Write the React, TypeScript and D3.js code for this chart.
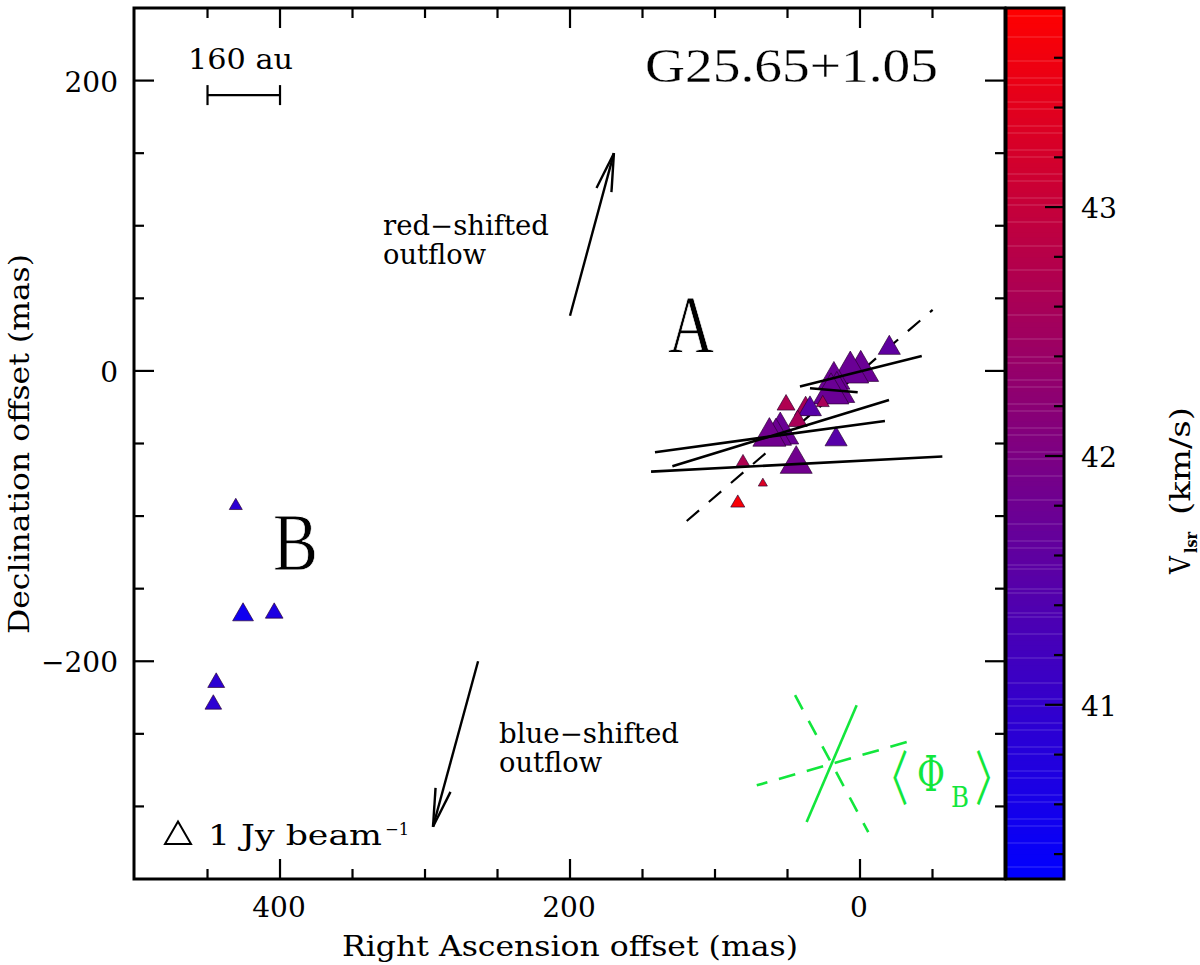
import React, { useEffect, useRef } from 'react';
import * as d3 from 'd3';

// maser spots: offsets in mas, flux in Jy/beam, velocity in km/s
const spotRa = [-20.2, -0.5, 6.7, 18, 16, 20, 37.5, 34.5, 25.7, 51, 43, 55, 58, 62.5, 16.5, 44, 80.7, 67, 84.3, 430.5, 425.5, 404, 444, 446];
const spotDec = [15.8, -0.1, -1, -6.2, -14.6, -15.6, -26.2, -26.3, -22, -23.4, -34.5, -43, -45, -45.3, -47.2, -64.2, -62.7, -77.5, -91, -92.9, -168, -166.8, -214.7, -229.7];
const spotFlux = [0.85, 1.38, 1.42, 1.23, 1.38, 1.38, 0.85, 0.88, 0.5, 0.69, 0.73, 1.42, 1.2, 1.27, 0.85, 1.23, 0.5, 0.35, 0.54, 0.5, 0.8, 0.68, 0.65, 0.64];
const spotVel = [41.6, 41.75, 41.75, 41.75, 41.75, 41.75, 42.6, 41.5, 42.6, 42.7, 42.6, 41.75, 41.8, 41.85, 41.5, 41.85, 42.7, 43.3, 43.7, 40.9, 40.5, 40.7, 40.9, 40.9];

// polarization vectors [ra1, dec1, ra2, dec2]
const vectors = [
  [41.4, -10.8, -42.6, 10.3],
  [34.5, -11.9, 1.6, -14.7],
  [129.4, -65.7, -20, -20],
  [141.4, -56, -17.2, -34.5],
  [144.1, -69.4, -56.8, -59],
];
const fitLine = [119.5, -103.4, -50.1, 42.1];
const outflowRed = [200, 38, 169.7, 150];
const outflowBlue = [263.4, -200, 294.5, -314];
const fieldSolid = [2.3, -230.3, 36.8, -310.8];
const fieldDashed = [-32.2, -255.7, 71.2, -285.5];
const fieldDashed2 = [44.8, -223.4, -5.7, -317.7];
const scaleBar = [450, 190, 400, 190];

const xMajor = [400, 200, 0];
const yMajor = [200, 0, -200];
const velMajor = [43, 42, 41];

// lighter seams between the colour bar's image tiles
const seams = [16, 37, 61, 78, 85, 102, 109, 126, 133, 150, 157, 174, 181, 198, 205, 222, 246, 270, 291, 315, 339, 357, 363, 380, 387, 404, 411, 428, 435, 452, 459, 476, 500, 524, 541, 548, 565, 569, 589, 593, 613, 617, 634, 658, 683, 699, 706, 723, 730, 747, 754, 771, 778, 795, 802, 819, 826, 843, 867];

const SERIF = '"DejaVu Serif", serif';
const ROMAN = '"Liberation Serif", serif';
const CJK = '"Noto Sans CJK SC", sans-serif';
const GREEN = '#12e63c';

const App = () => {
  const svgRef = useRef<SVGSVGElement>(null);

  useEffect(() => {
    const svg = d3.select(svgRef.current);
    svg.selectAll('*').remove();

    const left = 134, right = 1005, top = 8, bottom = 879;
    const barLeft = 1006, barRight = 1064;

    const x = d3.scaleLinear().domain([500.7, -100]).range([left, right]);
    const y = d3.scaleLinear().domain([250, -350]).range([top, bottom]);
    const v = d3.scaleLinear().domain([40.3, 43.8]).range([bottom, top]);
    const color = d3.scaleLinear<string>().domain([40.3, 43.8]).range(['#0000ff', '#ff0000']);

    const segment = (d: number[], stroke = '#000', width = 2, dash: string | null = null) =>
      svg.append('line')
        .attr('x1', x(d[0])).attr('y1', y(d[1]))
        .attr('x2', x(d[2])).attr('y2', y(d[3]))
        .attr('stroke', stroke).attr('stroke-width', width)
        .attr('stroke-dasharray', dash);

    const label = (s: string, px: number, py: number, size: number, len?: number, anchor = 'start', font = SERIF, fill = '#000') => {
      const t = svg.append('text')
        .attr('x', px).attr('y', py)
        .attr('font-family', font).attr('font-size', size)
        .attr('text-anchor', anchor).attr('fill', fill)
        .text(s);
      if (len) t.attr('textLength', len).attr('lengthAdjust', 'spacingAndGlyphs');
      return t;
    };
    const thin = (t: any, w = 0.8) => t.attr('stroke', '#fff').attr('stroke-width', w);

    // colour bar
    const bands = d3.range(40.3, 43.8, 0.02);
    svg.append('g').selectAll('rect').data(bands).enter().append('rect')
      .attr('x', barLeft).attr('width', barRight - barLeft)
      .attr('y', d => v(d + 0.02) - 0.5)
      .attr('height', d => v(d) - v(d + 0.02) + 1)
      .attr('fill', d => color(d + 0.01));
    svg.append('g').selectAll('line').data(seams).enter().append('line')
      .attr('x1', barLeft).attr('x2', barRight)
      .attr('y1', d => d).attr('y2', d => d)
      .attr('stroke', '#fff').attr('stroke-opacity', 0.2).attr('stroke-width', 1);

    // fit line goes under the spots
    segment(fitLine, '#000', 2.2, '16.3 12.85');

    const tri = d3.symbol().type(d3.symbolTriangle);
    const triArea = (w: number) => (Math.sqrt(3) / 4) * w * w;
    const fluxW = d3.scaleLinear().domain([0, 1]).range([0, 26]);

    svg.append('g').selectAll('path').data(d3.range(spotRa.length)).enter().append('path')
      .attr('d', i => tri.size(triArea(fluxW(spotFlux[i])))())
      .attr('transform', i => `translate(${x(spotRa[i])},${y(spotDec[i])})`)
      .attr('fill', i => color(spotVel[i]))
      .attr('stroke', '#2a0030').attr('stroke-opacity', 0.75).attr('stroke-width', 0.9);

    vectors.forEach(d => segment(d, '#000', 2.6));

    // outflow arrows
    const arrow = (d: number[]) => {
      segment(d, '#000', 2.4);
      const x2 = x(d[2]), y2 = y(d[3]);
      const ang = Math.atan2(y(d[1]) - y2, x(d[0]) - x2);
      [-0.2, 0.2].forEach(a => {
        svg.append('line')
          .attr('x1', x2).attr('y1', y2)
          .attr('x2', x2 + 39 * Math.cos(ang + a)).attr('y2', y2 + 39 * Math.sin(ang + a))
          .attr('stroke', '#000').attr('stroke-width', 2.4);
      });
    };
    arrow(outflowRed);
    arrow(outflowBlue);

    // scale bar
    segment(scaleBar, '#000', 2.2);
    [scaleBar[0], scaleBar[2]].forEach(r => {
      svg.append('line')
        .attr('x1', x(r)).attr('x2', x(r))
        .attr('y1', y(scaleBar[1]) - 10).attr('y2', y(scaleBar[1]) + 10)
        .attr('stroke', '#000').attr('stroke-width', 2.2);
    });

    // magnetic field marker
    segment(fieldSolid, GREEN, 2.6);
    segment(fieldDashed, GREEN, 2.6, '17 12');
    segment(fieldDashed2, GREEN, 2.6, '16 13');

    // frame
    svg.append('rect')
      .attr('x', left).attr('y', top).attr('width', right - left).attr('height', bottom - top)
      .attr('fill', 'none').attr('stroke', '#000').attr('stroke-width', 3);
    svg.append('rect')
      .attr('x', barLeft).attr('y', top).attr('width', barRight - barLeft).attr('height', bottom - top)
      .attr('fill', 'none').attr('stroke', '#000').attr('stroke-width', 3);

    const ticks = svg.append('g').attr('stroke', '#000').attr('stroke-width', 2.2);
    d3.range(-100, 501, 50).forEach(t => {
      const len = t % 200 === 0 ? 20 : 10;
      if (x(t) <= left + 2 || x(t) >= right - 2) return;
      ticks.append('line').attr('x1', x(t)).attr('x2', x(t)).attr('y1', top).attr('y2', top + len);
      ticks.append('line').attr('x1', x(t)).attr('x2', x(t)).attr('y1', bottom).attr('y2', bottom - len);
    });
    d3.range(-300, 201, 50).forEach(t => {
      const len = t % 200 === 0 ? 20 : 10;
      ticks.append('line').attr('y1', y(t)).attr('y2', y(t)).attr('x1', left).attr('x2', left + len);
      ticks.append('line').attr('y1', y(t)).attr('y2', y(t)).attr('x1', right).attr('x2', right - len);
    });
    d3.range(40.4, 43.75, 0.2).forEach(t => {
      const len = Math.abs(t - Math.round(t)) < 0.01 ? 18 : 9;
      ticks.append('line').attr('y1', v(t)).attr('y2', v(t)).attr('x1', barRight - 1).attr('x2', barRight - 1 - len);
    });

    // tick labels
    xMajor.forEach(t => label(String(t), x(t) - 1, 917, 28, undefined, 'middle'));
    yMajor.forEach(t => label(t < 0 ? `\u2212${-t}` : String(t), 118, y(t) + 11, 28, undefined, 'end'));
    velMajor.forEach(t => label(String(t), 1081, v(t) + 11, 28, 36));

    // axis titles
    label('Right Ascension offset (mas)', 342, 956, 28, 456);
    svg.append('text')
      .attr('transform', 'translate(29,634) rotate(-90)')
      .attr('font-family', SERIF).attr('font-size', 28)
      .attr('textLength', 380).attr('lengthAdjust', 'spacingAndGlyphs')
      .text('Declination offset (mas)');
    svg.append('text')
      .attr('transform', 'translate(1190,574) rotate(-90)')
      .attr('font-family', SERIF).attr('font-size', 28)
      .attr('textLength', 18).attr('lengthAdjust', 'spacingAndGlyphs')
      .text('V');
    svg.append('text')
      .attr('transform', 'translate(1197,553) rotate(-90)')
      .attr('font-family', SERIF).attr('font-size', 16).attr('font-weight', 'bold')
      .attr('textLength', 21).attr('lengthAdjust', 'spacingAndGlyphs')
      .text('lsr');
    svg.append('text')
      .attr('transform', 'translate(1190,515) rotate(-90)')
      .attr('font-family', SERIF).attr('font-size', 28)
      .attr('textLength', 108).attr('lengthAdjust', 'spacingAndGlyphs')
      .text('(km/s)');

    // annotations
    thin(label('G25.65+1.05', 645, 82, 48, 293, 'start', ROMAN), 0.3);
    label('160 au', 188, 69, 28, 105);
    thin(label('A', 668, 352, 82, 46, 'start', ROMAN));
    thin(label('B', 273, 570, 82, 45, 'start', ROMAN));
    label('red\u2212shifted', 383, 235, 27, 166);
    label('outflow', 383, 264, 27, 103);
    label('blue\u2212shifted', 499, 743, 27, 180);
    label('outflow', 499, 772, 27, 103);

    // legend triangle, 1 Jy/beam
    svg.append('path')
      .attr('d', tri.size(triArea(fluxW(1)))())
      .attr('transform', `translate(178,836.5)`)
      .attr('fill', 'none').attr('stroke', '#000').attr('stroke-width', 2);
    label('1 Jy beam', 208, 845, 28, 174);
    label('\u22121', 385, 835, 17, 24);

    // <Phi_B>, brackets squeezed to the reference's narrow shape
    label('\u3008', 0, 0, 56, undefined, 'start', CJK, GREEN).attr('transform', 'translate(872,800) scale(0.65,1.06)');
    label('\u03a6', 917, 791, 48, 28, 'start', SERIF, GREEN);
    label('B', 951, 807, 28, 18, 'start', SERIF, GREEN);
    label('\u3009', 0, 0, 56, undefined, 'start', CJK, GREEN).attr('transform', 'translate(975,800) scale(0.65,1.06)');
  }, []);

  return <svg ref={svgRef} width={1200} height={965} style={{ position: 'absolute', left: 0, top: 0, background: '#fff' }}></svg>;
};

export default App;
